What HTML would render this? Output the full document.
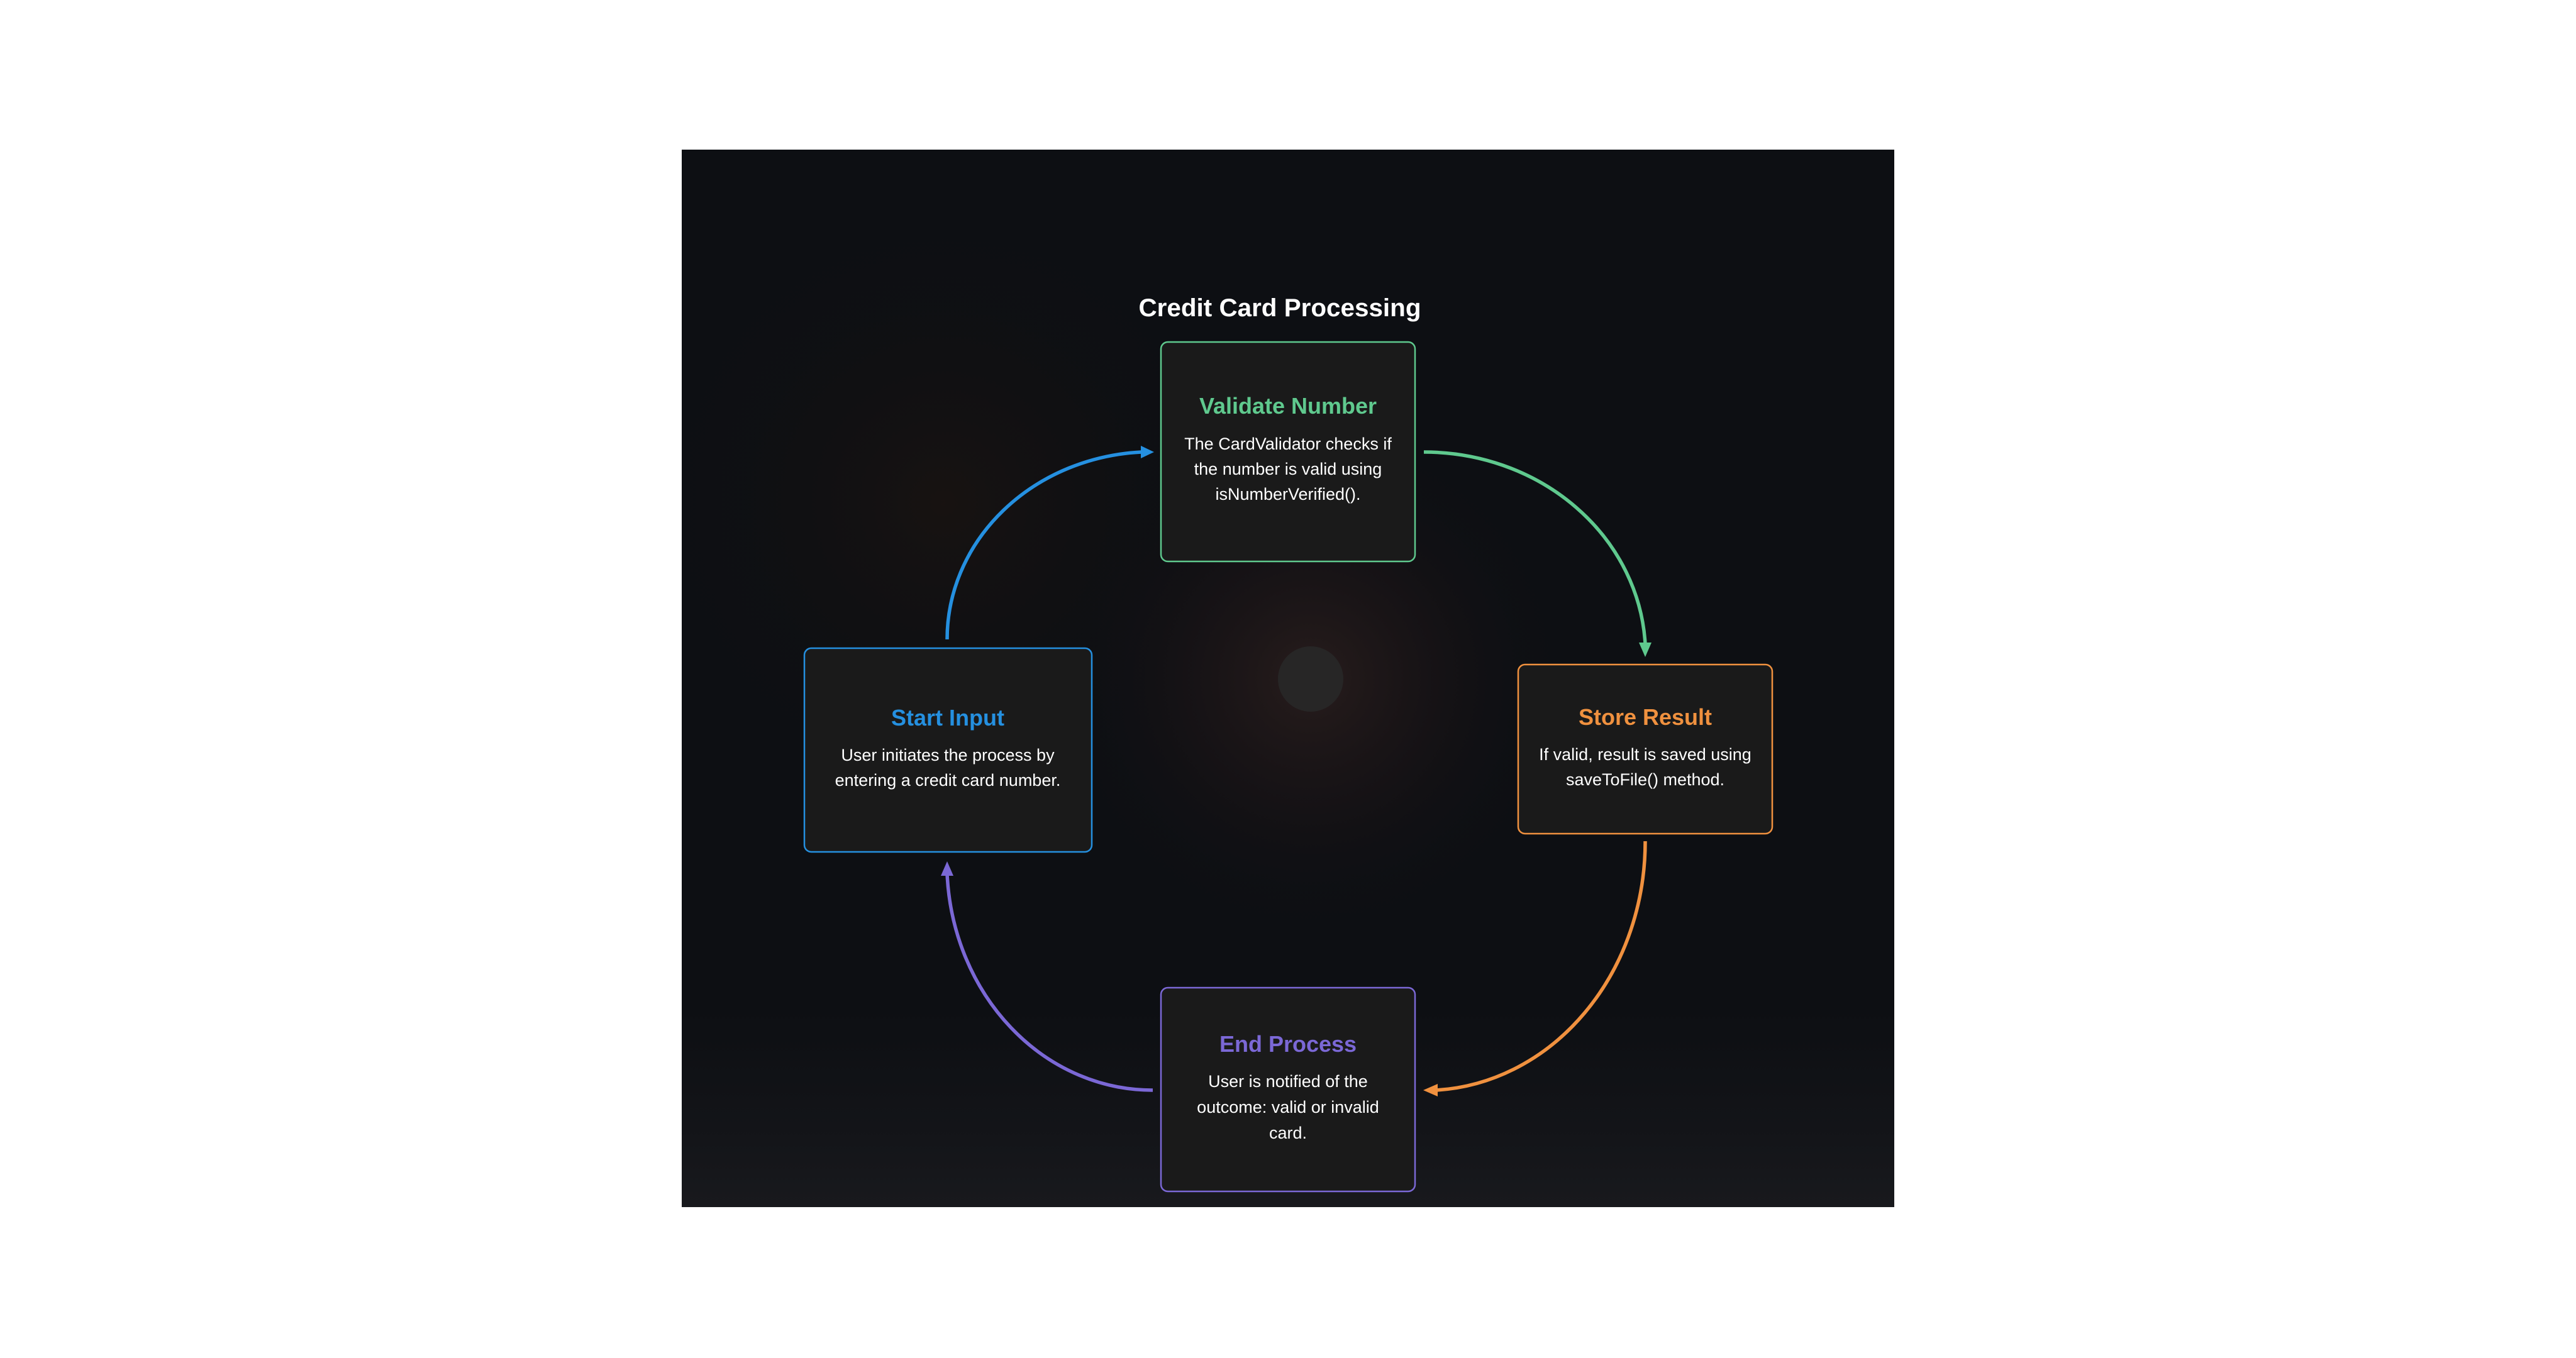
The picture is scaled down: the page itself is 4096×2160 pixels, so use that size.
<!DOCTYPE html>
<html><head><meta charset="utf-8"><style>
html,body{margin:0;padding:0;background:#fff;width:4096px;height:2160px;overflow:hidden}
svg{display:block}
text{font-family:"Liberation Sans",Arial,sans-serif}
</style></head><body>
<svg width="4096" height="2160" viewBox="0 0 4096 2160" xmlns="http://www.w3.org/2000/svg">
<defs>
<radialGradient id="glow" cx="2084" cy="1080" r="420" gradientUnits="userSpaceOnUse">
<stop offset="0" stop-color="#2e201e" stop-opacity="0.8"/>
<stop offset="0.5" stop-color="#1d1517" stop-opacity="0.5"/>
<stop offset="1" stop-color="#0d0f13" stop-opacity="0"/>
</radialGradient>
<radialGradient id="glow2" cx="1500" cy="800" r="500" gradientUnits="userSpaceOnUse">
<stop offset="0" stop-color="#22160f" stop-opacity="0.5"/>
<stop offset="1" stop-color="#0d0f13" stop-opacity="0"/>
</radialGradient>
<linearGradient id="bot" x1="0" y1="0" x2="0" y2="1">
<stop offset="0" stop-color="#1a1a1e" stop-opacity="0"/>
<stop offset="1" stop-color="#202024" stop-opacity="0.6"/>
</linearGradient>
</defs>
<rect x="1084" y="238" width="1928" height="1682" fill="#0d0f13"/>
<rect x="1084" y="238" width="1928" height="1682" fill="url(#glow2)"/>
<rect x="1084" y="238" width="1928" height="1682" fill="url(#glow)"/>
<rect x="1084" y="1600" width="1928" height="320" fill="url(#bot)"/>
<circle cx="2084" cy="1080" r="52" fill="#272626"/>

<text x="2035" y="503" font-size="40" font-weight="bold" fill="#fff" text-anchor="middle" textLength="449" lengthAdjust="spacingAndGlyphs">Credit Card Processing</text>

<g fill="none" stroke-width="5.5">
<path d="M1506,1017 A327,298 0 0 1 1815,719" stroke="#2590e0"/>
<path d="M2264,719 A352,323 0 0 1 2616,1024" stroke="#5fc98e"/>
<path d="M2616,1338 A351,396 0 0 1 2283,1734" stroke="#f0913f"/>
<path d="M1833,1734 A327,362 0 0 1 1506,1390" stroke="#7b68d6"/>
</g>
<path d="M1835,719 L1814,709 L1814,729 Z" fill="#2590e0"/>
<path d="M2616,1045 L2606,1022 L2626,1022 Z" fill="#5fc98e"/>
<path d="M2263,1734 L2286,1724 L2286,1744 Z" fill="#f0913f"/>
<path d="M1506,1370 L1496,1393 L1516,1393 Z" fill="#7b68d6"/>

<rect x="1846" y="544" width="404" height="349" rx="11" fill="#1a1a1a" stroke="#5fc98e" stroke-width="2.5"/>
<rect x="1279" y="1031" width="457" height="324" rx="11" fill="#1a1a1a" stroke="#2590e0" stroke-width="2.5"/>
<rect x="2414" y="1057" width="404" height="269" rx="11" fill="#1a1a1a" stroke="#f0913f" stroke-width="2.5"/>
<rect x="1846" y="1571" width="404" height="324" rx="11" fill="#1a1a1a" stroke="#7b68d6" stroke-width="2.5"/>

<g text-anchor="middle">
<text x="2048" y="658" font-size="36" font-weight="bold" fill="#5fc98e">Validate Number</text>
<text x="2048" y="715" font-size="27" fill="#fff">The CardValidator checks if</text>
<text x="2048" y="755" font-size="27" fill="#fff">the number is valid using</text>
<text x="2048" y="795" font-size="27" fill="#fff">isNumberVerified().</text>

<text x="1507" y="1154" font-size="36" font-weight="bold" fill="#2590e0">Start Input</text>
<text x="1507" y="1210" font-size="27" fill="#fff">User initiates the process by</text>
<text x="1507" y="1250" font-size="27" fill="#fff">entering a credit card number.</text>

<text x="2616" y="1153" font-size="36" font-weight="bold" fill="#f0913f">Store Result</text>
<text x="2616" y="1209" font-size="27" fill="#fff">If valid, result is saved using</text>
<text x="2616" y="1249" font-size="27" fill="#fff">saveToFile() method.</text>

<text x="2048" y="1673" font-size="36" font-weight="bold" fill="#7b68d6">End Process</text>
<text x="2048" y="1729" font-size="27" fill="#fff">User is notified of the</text>
<text x="2048" y="1770" font-size="27" fill="#fff">outcome: valid or invalid</text>
<text x="2048" y="1811" font-size="27" fill="#fff">card.</text>
</g>
</svg>
</body></html>
